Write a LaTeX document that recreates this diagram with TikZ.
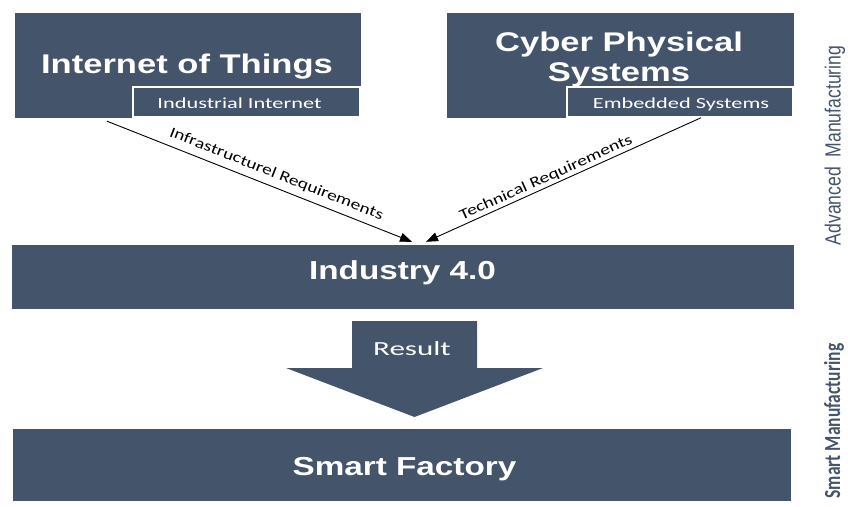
\documentclass[tikz,border=0pt]{standalone}
\usepackage{fontspec}
\usetikzlibrary{arrows.meta}

\definecolor{slate}{HTML}{44546A}
\newfontfamily\titlefont[FakeStretch=1.28]{Liberation Sans}
\newfontfamily\tagfont[FakeStretch=1.45]{Carlito}
\newfontfamily\reqfont[FakeStretch=1.3]{Carlito}
\newfontfamily\resfont[FakeStretch=1.55]{Carlito}
\newfontfamily\advfont[FakeStretch=0.8]{Liberation Sans}
\newfontfamily\smfont[FakeStretch=0.76]{Carlito}

\tikzset{
    block/.style={fill=slate, draw=slate, inner sep=0pt},
    subblock/.style={fill=slate, draw=white, line width=1.5pt, inner sep=0pt},
    tag/.style={text=white, inner sep=0pt, anchor=base, font=\tagfont\fontsize{15.4}{17}\selectfont},
    title/.style={text=white, inner sep=0pt, align=center,
        font=\titlefont\bfseries\fontsize{27}{30}\selectfont},
    req/.style={draw=black, line width=0.9pt, -{Triangle[length=12pt,width=9pt]}},
    reqlabel/.style={font=\reqfont\fontsize{15}{17}\selectfont, sloped, inner sep=2pt},
    side/.style={text=slate, rotate=90, inner sep=0pt}
}

\begin{document}
\begin{tikzpicture}[x=1pt,y=-1pt]

        \useasboundingbox (0,0) rectangle (848,506);

        % top boxes
        \node[block, minimum width=345, minimum height=104] (iot) at (187.5,65) {};
        \node[subblock, minimum width=227, minimum height=30] (indnet) at (246.5,102) {};
        \node[tag] (indnettext) at (239.5,108) {Industrial Internet};
        \node[title, anchor=base] (iottitle) at (187,73) {Internet of Things};

        \node[block, minimum width=346, minimum height=104] (cps) at (620,65) {};
        \node[subblock, minimum width=226, minimum height=30] (emb) at (680,102) {};
        \node[tag] (embtext) at (681,108) {Embedded Systems};
        \node[title] (cpstitle) at (619,60) {Cyber Physical\\Systems};

        % middle and bottom bars
        \node[block, minimum width=781, minimum height=63] (ind) at (402.5,276.5) {};
        \node[title, anchor=base, font=\titlefont\bfseries\fontsize{26}{28}\selectfont] (indtitle) at (402.5,279) {Industry 4.0};

        \node[block, minimum width=777, minimum height=71] (sf) at (401.5,464.5) {};
        \node[title, anchor=base, font=\titlefont\bfseries\fontsize{26}{28}\selectfont] (sftitle) at (404.5,475) {Smart Factory};

        % result arrow
        \fill[slate] (352,321) -- (477,321) -- (477,368) -- (543,368) -- (414.5,417) -- (286,368) -- (352,368) -- cycle;
        \node[text=white, anchor=base, font=\resfont\fontsize{20}{22}\selectfont] (result) at (412,355) {Result};

        % requirements
        \draw[req] ([xshift=-80.5pt,yshift=-4pt]iot.south) -- node[reqlabel, pos=0.54, above=4pt] (infra) {Infrastructurel Requirements} ([xshift=9.5pt,yshift=3pt]ind.north);
        \draw[req] ([xshift=21pt]emb.south) -- node[reqlabel, pos=0.55, above] (tech) {Technical Requirements} ([xshift=23.5pt,yshift=3pt]ind.north);

        % side labels
        \node[side, font=\advfont\fontsize{22}{24}\selectfont] (advman) at (835,145.5) {Advanced\ \ Manufacturing};
        \node[side, font=\smfont\bfseries\fontsize{23}{25}\selectfont] (smartman) at (834,421) {Smart Manufacturing};

\end{tikzpicture}
\end{document}
